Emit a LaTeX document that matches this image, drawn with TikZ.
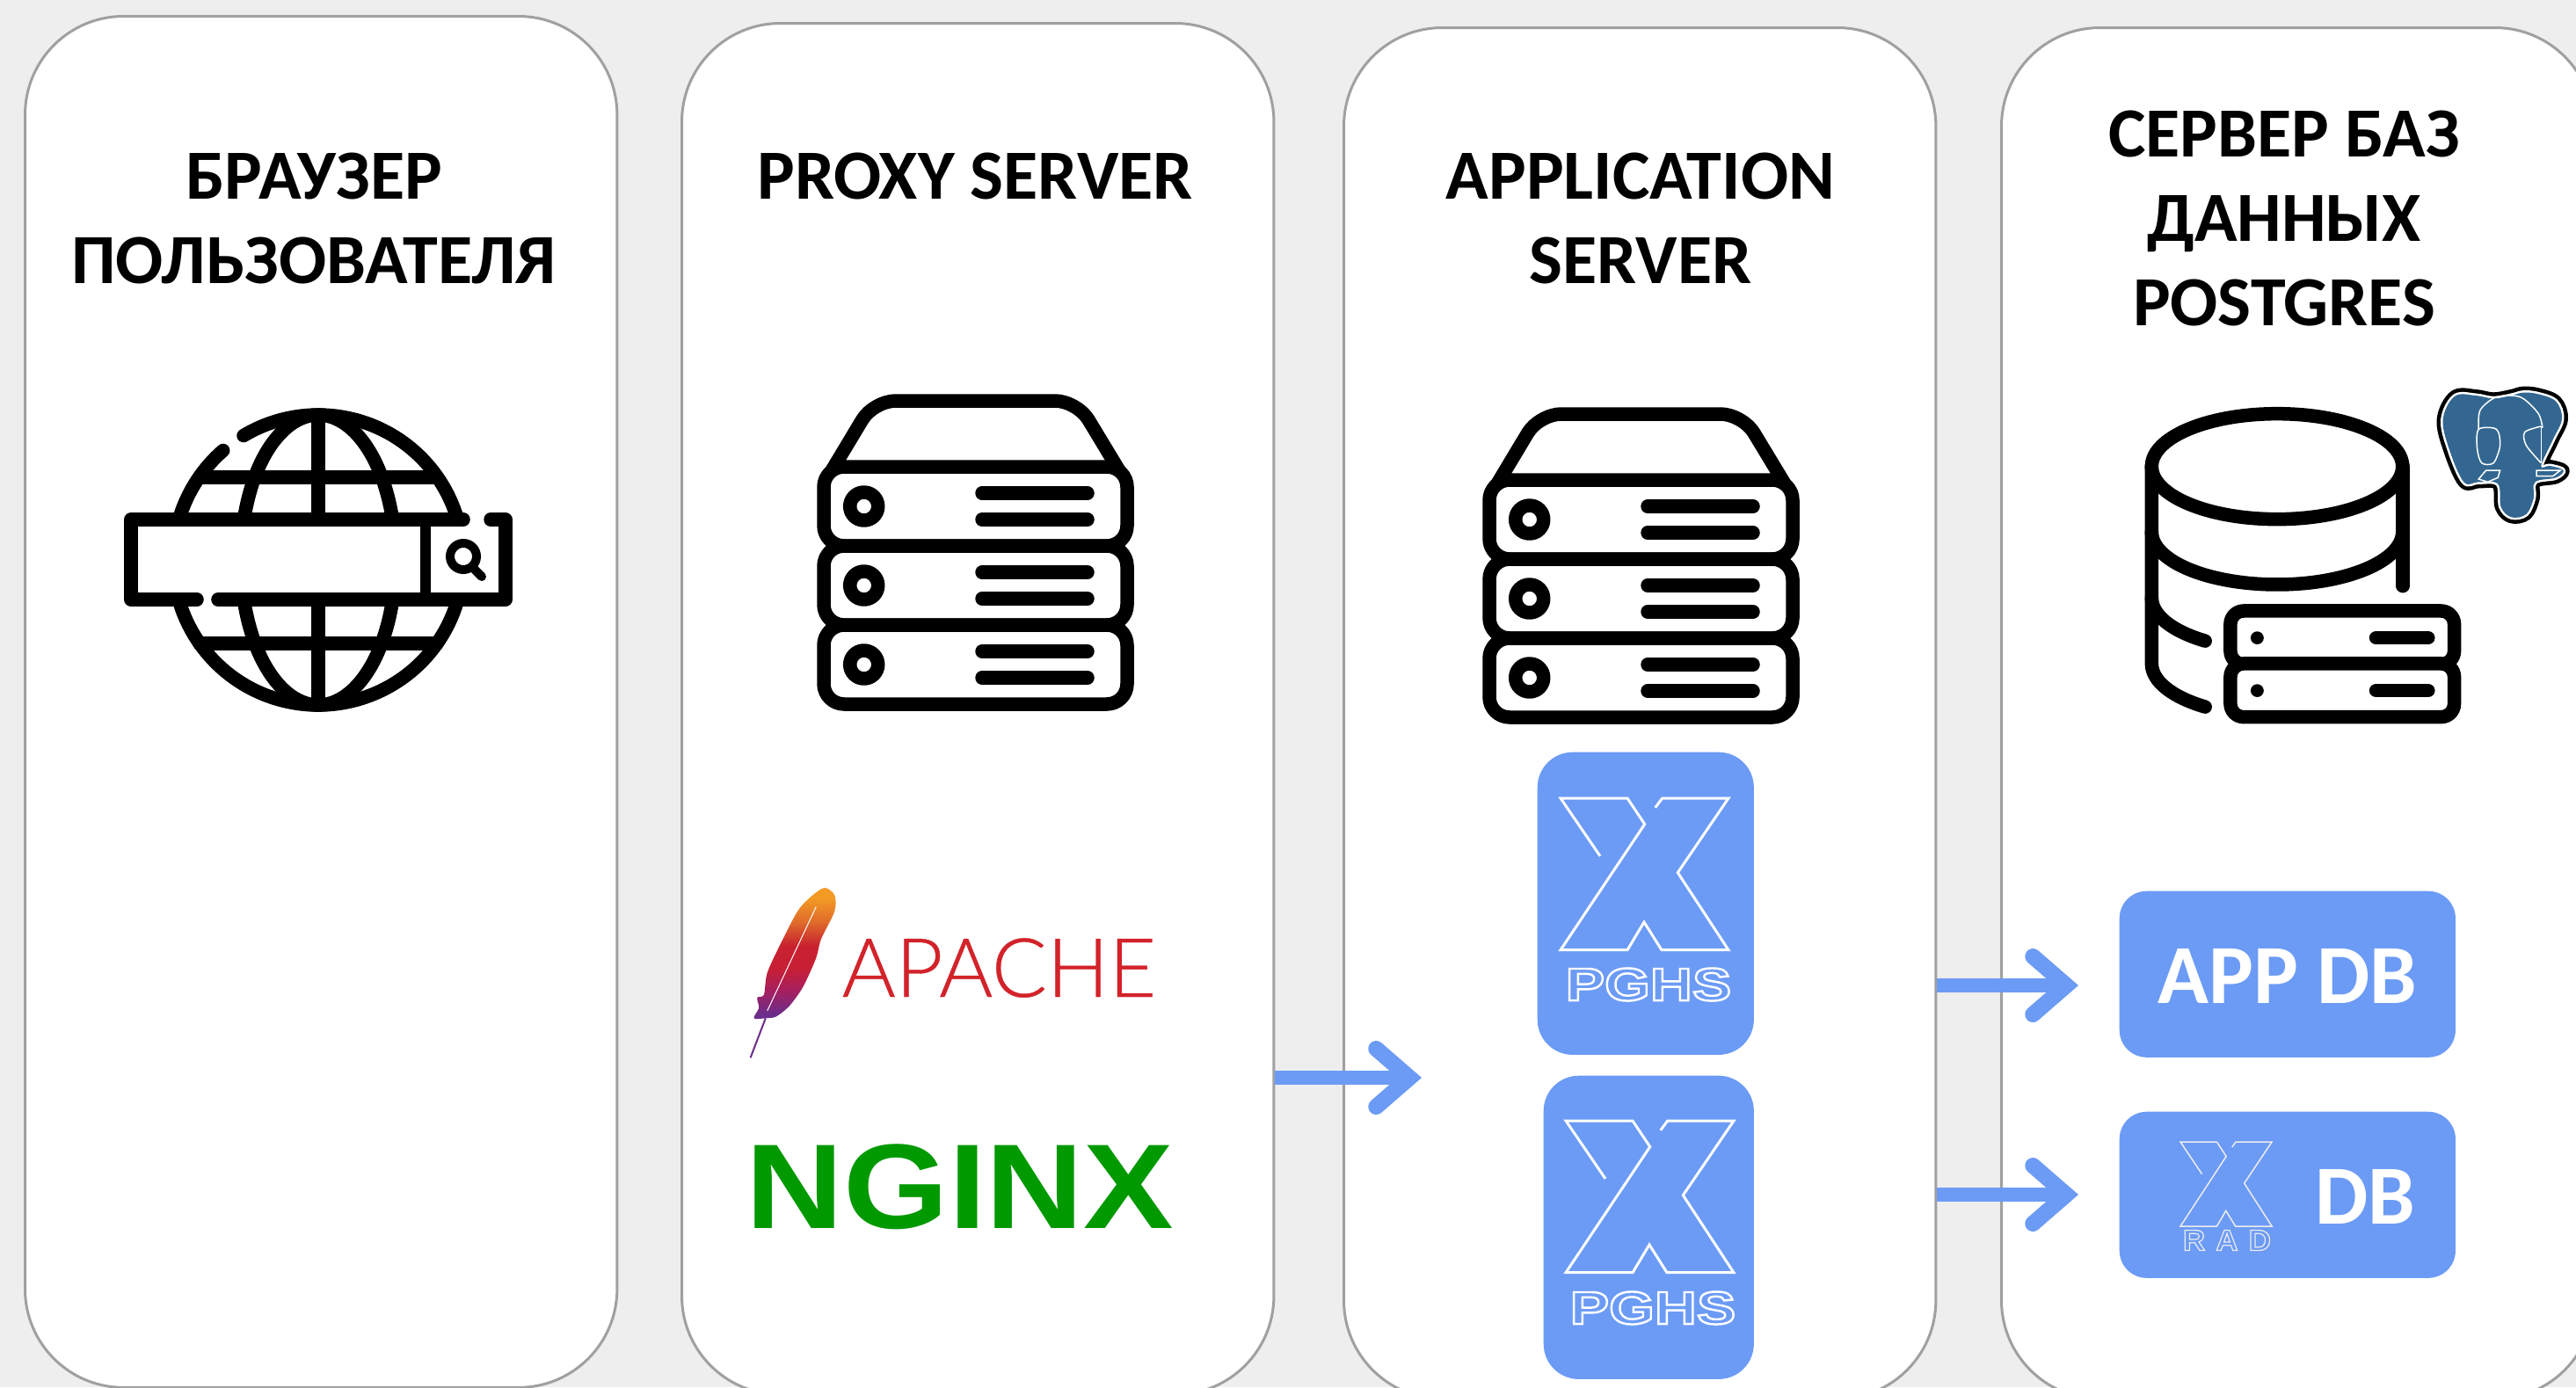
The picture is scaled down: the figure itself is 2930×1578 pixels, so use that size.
\documentclass[tikz,border=0pt]{standalone}
\usepackage{xcolor}
\usepackage{fontspec}
\usepackage{tikz}
\usetikzlibrary{arrows.meta}
\setmainfont{Carlito}
\newfontfamily\logofont[FakeStretch=1.27]{Liberation Sans Bold}
\newfontfamily\radfont[LetterSpace=36,FakeStretch=1.05]{Liberation Sans Bold}
\newfontfamily\apachefont[FakeBold=0.4]{Lato Light}
\newfontfamily\nginxfont[FakeStretch=1.12]{Liberation Sans Bold}
\definecolor{pagegray}{HTML}{EEEEEE}
\definecolor{panelline}{HTML}{A0A0A0}
\definecolor{flowblue}{HTML}{6C9BF5}
\definecolor{pgblue}{HTML}{336791}
\definecolor{apachered}{HTML}{D2232A}
\definecolor{nginxgreen}{HTML}{009900}
\definecolor{fpurple}{HTML}{6B2D8B}
\definecolor{fmagenta}{HTML}{A61F5F}
\definecolor{fred}{HTML}{C71F37}
\definecolor{fdeep}{HTML}{C8222F}
\definecolor{fdark}{HTML}{E06B2B}
\definecolor{forange}{HTML}{F39A24}
\pgfdeclareverticalshading{featherfill}{100bp}{color(0bp)=(fpurple); color(27bp)=(fpurple); color(36bp)=(fmagenta); color(44bp)=(fred); color(53bp)=(fdeep); color(62bp)=(fdark); color(71bp)=(forange); color(100bp)=(forange)}
% stroked text, as in the logos
\newcommand{\outlinetext}[2]{\special{pdf:code q 1 Tr #1 w}#2\special{pdf:code Q}}
\newcommand{\elephantpath}{plot[smooth cycle, tension=0.6] coordinates {(1160,92) (1120,170) (1140,270) (1190,385) (1240,385) (1305,392) (1315,470) (1350,505) (1400,495) (1425,440) (1430,385) (1500,370) (1525,345) (1480,330) (1450,330) (1490,240) (1520,170) (1500,110) (1440,85) (1390,80) (1350,90) (1290,100) (1230,90)}}
\tikzset{
	panelbox/.style={draw=panelline, line width=0.03cm, fill=white, rounded corners=1.12cm, minimum width=6.73cm, minimum height=15.59cm, inner sep=0pt},
	paneltitle/.style={align=center, inner sep=0pt, font=\fontsize{22.8}{27.3}\selectfont\bfseries},
	bluebox/.style={fill=flowblue, rounded corners=0.31cm, inner sep=0pt, text=white},
	dbtext/.style={text=white, inner sep=0pt, font=\fontsize{27.2}{28}\selectfont\bfseries},
	flowarrow/.style={flowblue, line width=0.16cm, -{Straight Barb[length=0.38cm, width=0.66cm, line width=0.18cm, line cap=round, line join=miter]}},
	iconline/.style={line width=0.155cm, line cap=round, line join=round},
	logoline/.style={white, line width=0.03cm},
	xlogo/.pic={
		\draw[logoline] (45,65.9) -- (0,0) -- (76,0) -- (95.7,29.6) -- (0,172.7) -- (76,172.7) -- (95,141) -- (115,172.7) -- (191,172.7) -- (133.3,84.7) -- (191,0) -- (115.7,0) -- (107.7,10.8);
	},
	servericon/.pic={
		\draw[iconline, rounded corners=0.25cm] (5,86) -- (56.7,0) -- (288,0) -- (340,86);
		\foreach \rowy in {120,210,300} {
			\draw[iconline, rounded corners=0.23cm, fill=white] (0,\rowy-45) rectangle (345,\rowy+45);
			\draw[iconline] (45.7,\rowy) circle (16);
			\draw[iconline] (180,\rowy-15) -- (300,\rowy-15);
			\draw[iconline] (180,\rowy+15) -- (300,\rowy+15);
		}
	}
}
\begin{document}
\begin{tikzpicture}[x=0.01cm, y=-0.01cm]
	\useasboundingbox (0,0) rectangle (2930,1578);
	\fill[pagegray] (0,0) rectangle (2930,1578);
	
	% Panels
	\node[panelbox, anchor=north west] (browserpanel) at (27,17) {};
	\node[panelbox, anchor=north west] (proxypanel) at (774,25) {};
	\node[panelbox, anchor=north west] (apppanel) at (1527,30) {};
	\node[panelbox, anchor=north west] (dbpanel) at (2275,30) {};
	
	% Titles
	\node[paneltitle] (browsertitle) at (357,248) {БРАУЗЕР\\ПОЛЬЗОВАТЕЛЯ};
	\node[paneltitle] (proxytitle) at (1109,200) {PROXY SERVER};
	\node[paneltitle] (apptitle) at (1866,248) {APPLICATION\\SERVER};
	\node[paneltitle] (dbtitle) at (2598,248) {СЕРВЕР БАЗ\\ДАННЫХ\\POSTGRES};
	
	% Globe with search bar
	\begin{scope}[shift={(362,637)}]
		\draw[iconline] (239:165) arc[start angle=239, end angle=342, radius=165];
		\draw[iconline] (229:165) arc[start angle=229, end angle=198, radius=165];
		\draw[iconline] (18:165) arc[start angle=18, end angle=162, radius=165];
		\draw[iconline] (198:88 and 165) arc[start angle=198, end angle=342, x radius=88, y radius=165];
		\draw[iconline] (18:88 and 165) arc[start angle=18, end angle=162, x radius=88, y radius=165];
		\draw[iconline] (0,-165) -- (0,-46);
		\draw[iconline] (0,46) -- (0,165);
		\draw[iconline] (-135,-94) -- (135,-94);
		\draw[iconline] (-135,95) -- (135,95);
	\end{scope}
	\draw[iconline] (527,591) -- (149,591) -- (149,682) -- (224,682);
	\draw[iconline] (248,682) -- (575,682) -- (575,591) -- (558,591);
	\draw[line width=0.12cm] (484,591) -- (484,682);
	\draw[line width=0.1cm] (527,633) circle (15);
	\draw[line width=0.1cm, line cap=round] (539,647) -- (548,656);
	
	% Servers
	\pic at (937,456) {servericon};
	\pic at (1694,471) {servericon};
	
	% Apache feather
	\begin{scope}[shift={(800,950)}, xscale=0.3827, yscale=0.3333]
		\draw[fpurple, line width=0.02cm] (140,760) -- (185,625);
		\shade[shading=featherfill] plot[smooth cycle] coordinates {(360,180) (390,205) (390,260) (350,355) (335,420) (300,510) (275,555) (250,590) (215,620) (185,625) (150,625) (165,590) (160,555) (180,545) (190,470) (230,370) (280,260) (320,210)};
		\draw[white, line width=0.01cm] (190,600) -- (335,245);
	\end{scope}
	\node[anchor=base west, inner sep=0pt, text=apachered, font=\apachefont\fontsize{26.5}{27}\selectfont] (apachelogo) at (957,1134) {APACHE};
	\node[anchor=base west, inner sep=0pt, text=nginxgreen, font=\nginxfont\fontsize{39}{39}\selectfont] (nginxlogo) at (848,1397) {NGINX};
	
	% PGHS boxes
	\node[bluebox, anchor=north west, minimum width=2.46cm, minimum height=3.44cm, rounded corners=0.4cm] (pghsa) at (1748,855) {};
	\node[bluebox, anchor=north west, minimum width=2.39cm, minimum height=3.45cm, rounded corners=0.4cm] (pghsb) at (1755,1223) {};
	\pic at (1775,908) {xlogo};
	\pic at (1781,1275) {xlogo};
	\node[text=white, inner sep=0pt, font=\logofont\fontsize{14.9}{15}\selectfont] (pghsatext) at (1875,1120) {\outlinetext{0.7}{PGHS}};
	\node[text=white, inner sep=0pt, font=\logofont\fontsize{14.9}{15}\selectfont] (pghsbtext) at (1880,1488) {\outlinetext{0.7}{PGHS}};
	
	% Database icon
	\begin{scope}[shift={(2400,420)}, xscale=0.3381, yscale=0.3333]
		\draw[iconline] (562,332) ellipse (422 and 180);
		\draw[iconline] (985,332) -- (985,740);
		\draw[iconline] (140,332) -- (140,1005) arc[start angle=180, end angle=125, x radius=422, y radius=180];
		\draw[iconline] (140,555) arc[start angle=180, end angle=0, x radius=422, y radius=180];
		\draw[iconline] (140,780) arc[start angle=180, end angle=125, x radius=422, y radius=180];
		\foreach \rowy in {917,1097} {
			\draw[iconline, rounded corners=0.15cm, fill=white] (405,\rowy-92) rectangle (1158,\rowy+90);
			\fill (495,\rowy) circle[x radius=22, y radius=22];
			\draw[iconline] (895,\rowy) -- (1070,\rowy);
		}
	\end{scope}
	
	% Elephant
	\begin{scope}[shift={(2400,420)}, xscale=0.3381, yscale=0.3333]
		\draw[black, line width=0.14cm, line join=round] \elephantpath;
		\draw[white, line width=0.05cm, line join=round] \elephantpath;
		\fill[pgblue] \elephantpath;
		\draw[white, line width=0.015cm] plot[smooth] coordinates {(1240,205) (1245,140) (1300,95) (1380,95) (1440,150) (1455,200)};
		\draw[white, line width=0.015cm] plot[smooth cycle] coordinates {(1240,205) (1300,205) (1312,260) (1290,320) (1250,320) (1235,270)};
		\draw[white, line width=0.015cm] plot[smooth] coordinates {(1450,195) (1395,215) (1400,260) (1450,320)};
		\draw[white, line width=0.015cm] (1450,195) -- (1450,320);
		\draw[white, line width=0.015cm] (1240,375) -- (1265,345) -- (1312,345) -- (1305,370) -- (1270,385) -- cycle;
		\draw[white, line width=0.015cm] (1435,345) -- (1515,345) -- (1490,365) -- (1435,365) -- cycle;
	\end{scope}
	
	% Database boxes
	\node[bluebox, anchor=north west, minimum width=3.82cm, minimum height=1.89cm] (appdb) at (2410,1013) {};
	\node[dbtext] (appdbtext) at (2602,1110) {APP DB};
	\node[bluebox, anchor=north west, minimum width=3.82cm, minimum height=1.89cm] (xraddb) at (2410,1264) {};
	\node[dbtext] (xraddbtext) at (2690,1361) {DB};
	\begin{scope}[logoline/.append style={white!85!gray, line width=0.015cm}]
		\pic[xscale=0.545, yscale=0.556] at (2480,1299) {xlogo};
	\end{scope}
	\node[text=white!85!gray, inner sep=0pt, font=\radfont\fontsize{9.5}{9.5}\selectfont] (radtext) at (2533,1411) {\outlinetext{0.35}{RAD}};
	
	% Arrows
	\coordinate (appin) at (1617,1226);
	\coordinate (appdbin) at (2364,1121);
	\coordinate (xraddbin) at (2364,1359);
	\draw[flowarrow] (proxypanel.east |- appin) -- (appin);
	\draw[flowarrow] (apppanel.east |- appdbin) -- (appdbin);
	\draw[flowarrow] (apppanel.east |- xraddbin) -- (xraddbin);
\end{tikzpicture}
\end{document}
